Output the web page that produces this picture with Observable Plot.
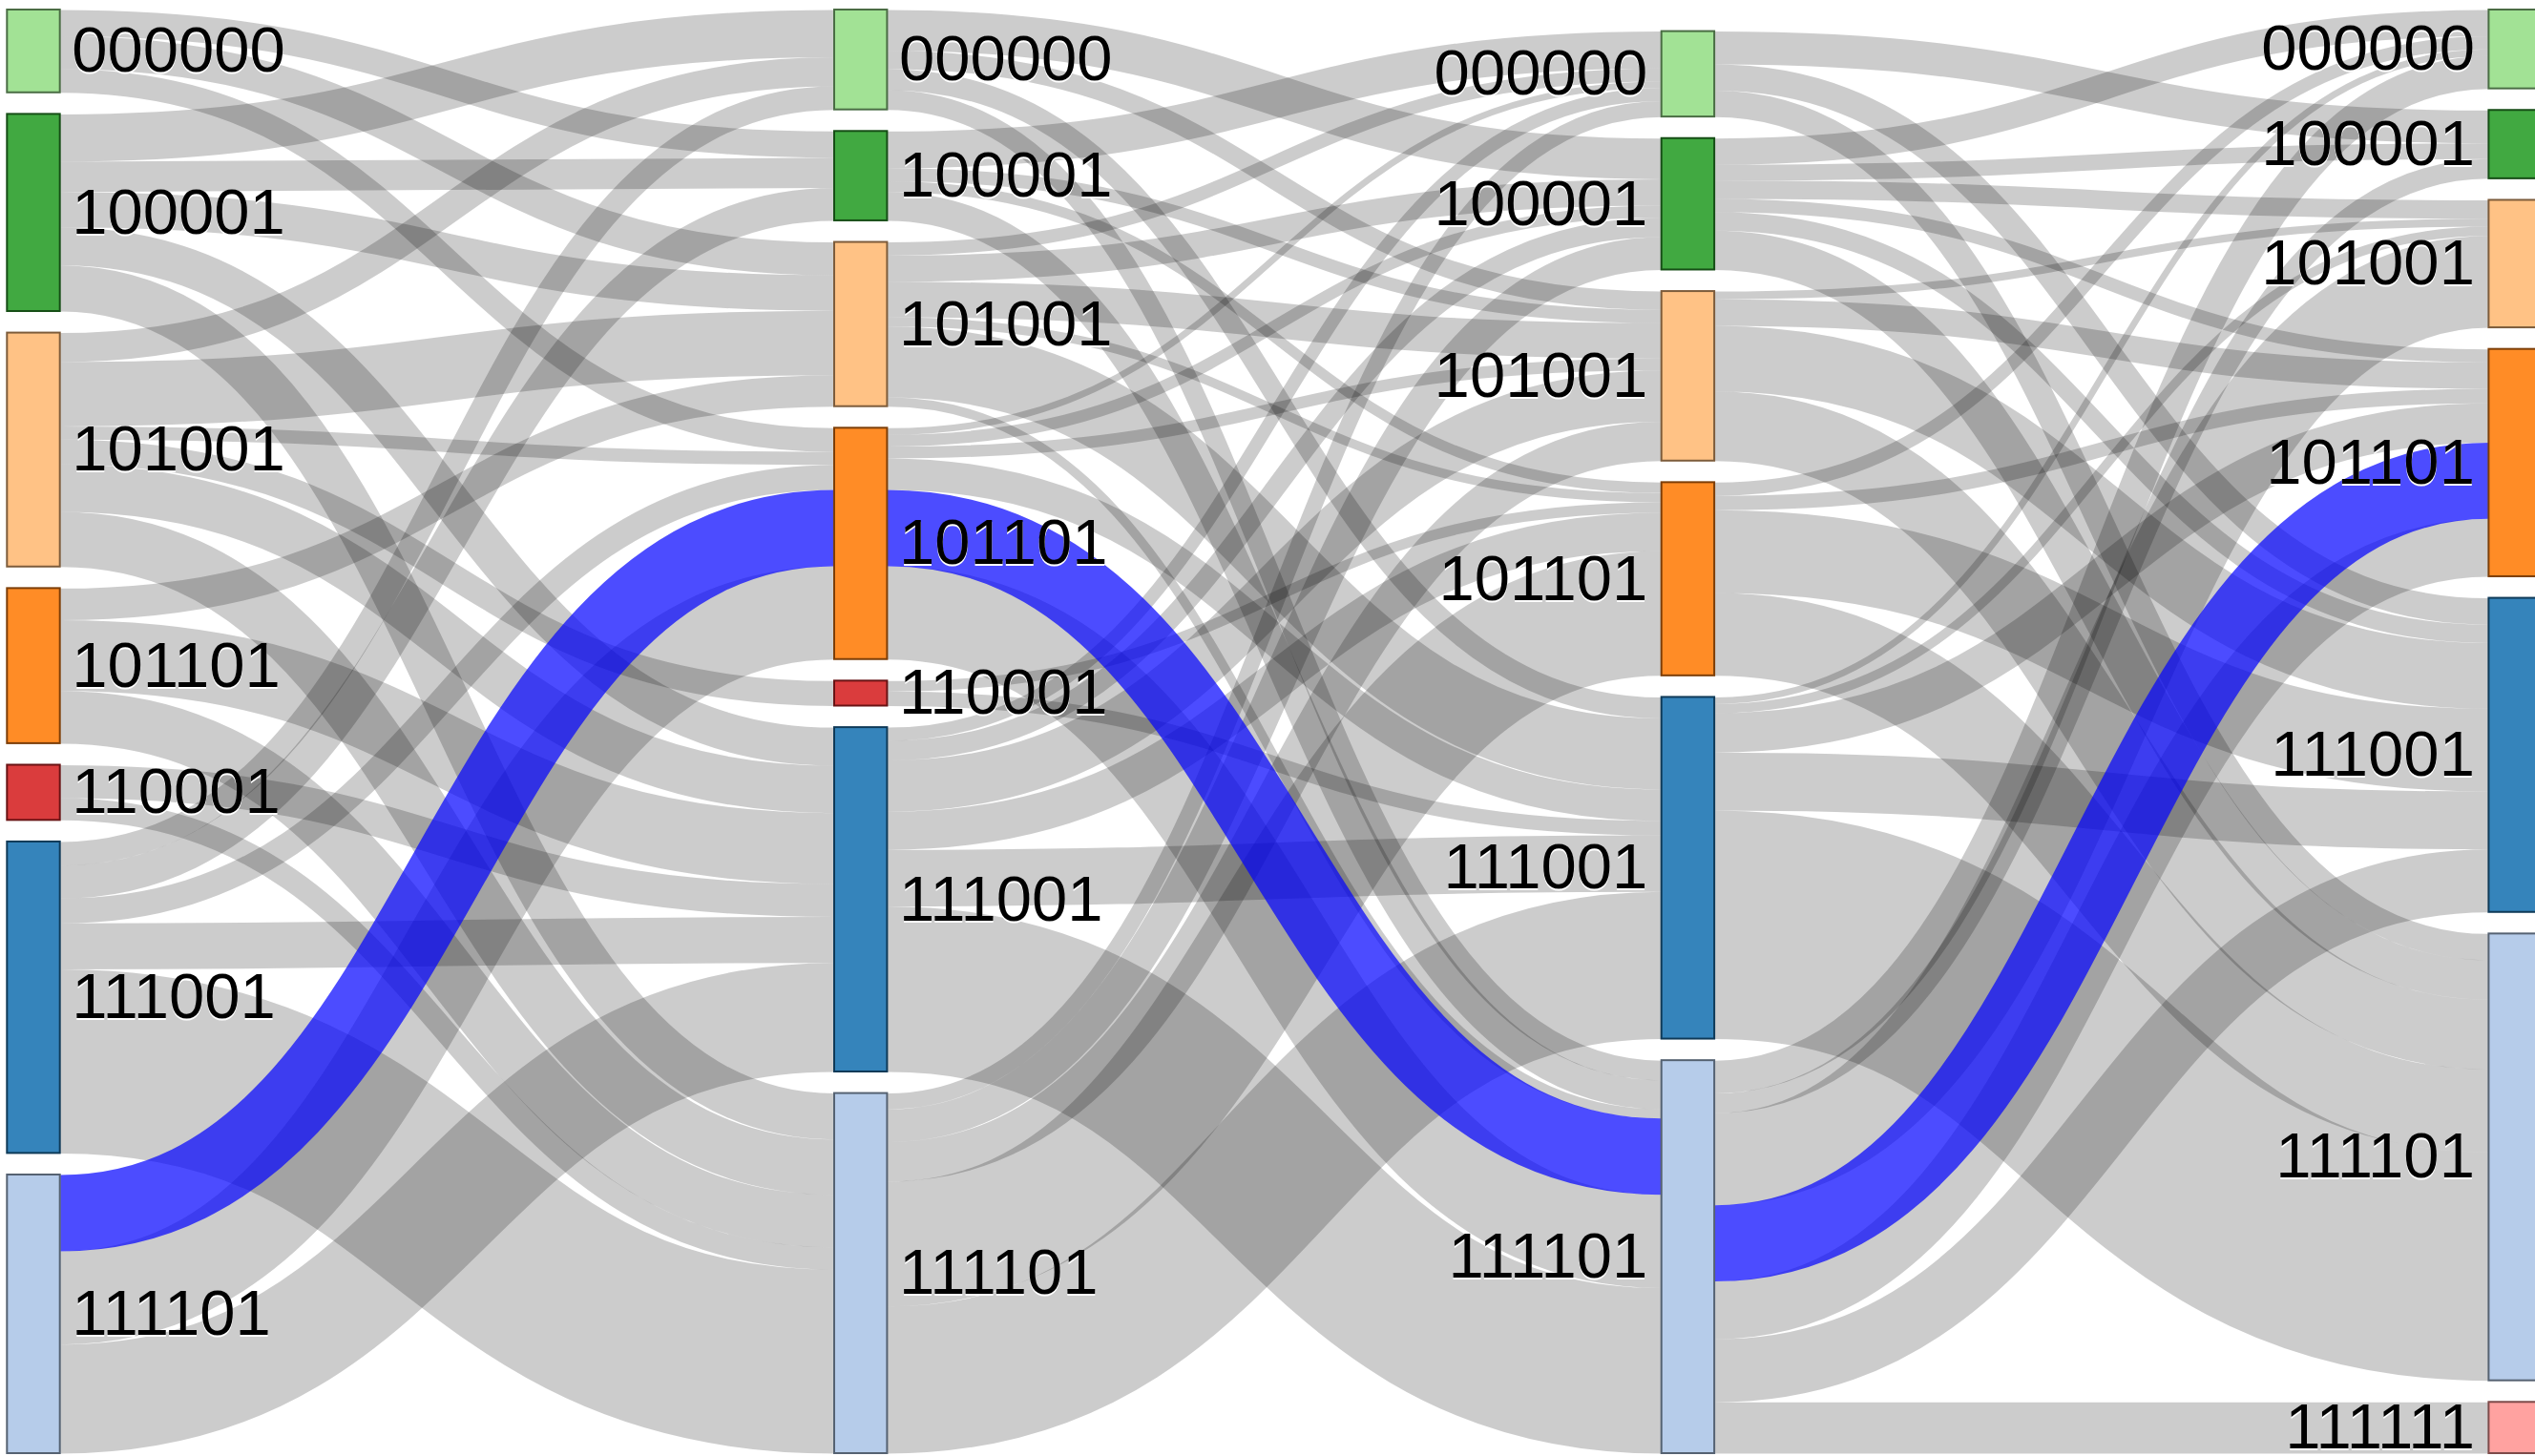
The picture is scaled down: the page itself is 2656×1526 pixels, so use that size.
<!DOCTYPE html>
<html>
<head>
<meta charset="utf-8">
<script src="https://cdn.jsdelivr.net/npm/d3@7"></script>
<script src="https://cdn.jsdelivr.net/npm/@observablehq/plot@0.6"></script>
<style>
  html, body { margin: 0; padding: 0; background: #fff; overflow: hidden; }
</style>
</head>
<body>
<div id="chart"></div>
<script>
// ---------------- data ----------------
const states = ["000000", "100001", "101001", "101101", "110001", "111001", "111101", "111111"];
const stateColors = ["#98df8a", "#2ca02c", "#ffbb78", "#ff7f0e", "#d62728", "#1f77b4", "#aec7e8", "#ff9896"];

const step1 = ["000000", "100001", "101001", "101101", "110001", "111001", "111101"];
const step2 = ["000000", "100001", "101001", "101101", "110001", "111001", "111101"];
const step3 = ["000000", "100001", "101001", "101101", "111001", "111101"];
const step4 = ["000000", "100001", "101001", "101101", "111001", "111101", "111111"];

// flows [from, to, value]
const flows12 = [
  ["000000", "100001", 2.0], ["000000", "101001", 2.5], ["000000", "101101", 1.8],
  ["100001", "000000", 3.6], ["100001", "100001", 2.3], ["100001", "101001", 2.7], ["100001", "111001", 2.9], ["100001", "111101", 3.5],
  ["101001", "000000", 2.2], ["101001", "101001", 4.9], ["101001", "101101", 1.0], ["101001", "110001", 1.9], ["101001", "111001", 3.6], ["101001", "111101", 4.2],
  ["101101", "101001", 2.4], ["101101", "111001", 5.4], ["101101", "111101", 4.0],
  ["110001", "111001", 2.5], ["110001", "111101", 1.7],
  ["111001", "000000", 1.8], ["111001", "100001", 2.5], ["111001", "101101", 1.9], ["111001", "111001", 3.5], ["111001", "111101", 14.0],
  ["111101", "101101", 7.1], ["111101", "111001", 8.3]
];
const flows23 = [
  ["000000", "100001", 3.1], ["000000", "101001", 1.4], ["000000", "111001", 1.6], ["000000", "111101", 1.5],
  ["100001", "000000", 2.8], ["100001", "101001", 1.0], ["100001", "101101", 0.8], ["100001", "111101", 2.2],
  ["101001", "000000", 1.0], ["101001", "100001", 2.0], ["101001", "101001", 2.7], ["101001", "101101", 0.7], ["101001", "111001", 5.4], ["101001", "111101", 0.7],
  ["101101", "000000", 0.5], ["101101", "100001", 0.9], ["101101", "101001", 0.9], ["101101", "111001", 2.4], ["101101", "111101", 7.1],
  ["110001", "101101", 0.8], ["110001", "111001", 1.1],
  ["111001", "000000", 1.0], ["111001", "100001", 1.5], ["111001", "101001", 3.9], ["111001", "101101", 2.9], ["111001", "111001", 4.3], ["111001", "111101", 12.6],
  ["111101", "000000", 1.2], ["111101", "100001", 2.5], ["111101", "101001", 3.0], ["111101", "101101", 9.5], ["111101", "111001", 11.2]
];
const flows34 = [
  ["000000", "100001", 2.5], ["000000", "111001", 2.0], ["000000", "111101", 2.0],
  ["100001", "000000", 2.0], ["100001", "100001", 1.2], ["100001", "101001", 1.4], ["100001", "101101", 1.0], ["100001", "111001", 1.4], ["100001", "111101", 3.0],
  ["101001", "101001", 0.6], ["101001", "101101", 2.0], ["101001", "111001", 5.0], ["101001", "111101", 5.3],
  ["101101", "000000", 1.0], ["101101", "101101", 1.1], ["101101", "111001", 6.3], ["101101", "111101", 6.3],
  ["111001", "000000", 0.5], ["111001", "101001", 0.7], ["111001", "101101", 3.0], ["111001", "111001", 4.4], ["111001", "111101", 17.4],
  ["111101", "000000", 2.5], ["111101", "100001", 1.5], ["111101", "101001", 7.0], ["111101", "101101", 4.4], ["111101", "111001", 4.8], ["111101", "111111", 3.9]
];

// highlighted trajectory and its size
const highlightPath = ["111101", "101101", "111101", "101101"];
const highlightValue = 5.8;

// ---------------- layout ----------------
const W = 2656, H = 1526;
const yTop = 10, yBottom = 1523;
const xLeft = 7.3, xRight = 2662.8;
const nodePx = 55.4, padPx = 22.6;

const steps = [step1, step2, step3, step4];
const gaps = [flows12, flows23, flows34].map((flows, c) =>
  flows.map(([s, t, v]) => ({col: c, source: s, target: t, value: v, hi: false}))
    .concat([{col: c, source: highlightPath[c], target: highlightPath[c + 1], value: highlightValue, hi: true}])
);
const colorOf = name => stateColors[states.indexOf(name)];

const nodes = [];
steps.forEach((names, c) => names.forEach((name, i) => {
  const inV = c > 0 ? d3.sum(gaps[c - 1].filter(f => f.target === name), f => f.value) : 0;
  const outV = c < gaps.length ? d3.sum(gaps[c].filter(f => f.source === name), f => f.value) : 0;
  nodes.push({col: c, index: i, name, value: Math.max(inV, outV)});
}));
const colTotal = steps.map((s, c) => d3.sum(nodes.filter(n => n.col === c), n => n.value));
const ky = d3.min(steps, (s, c) => (yBottom - yTop - (s.length - 1) * padPx) / colTotal[c]);
const pad = padPx / ky;
const extent = d3.max(steps, (s, c) => colTotal[c] + (s.length - 1) * pad);
steps.forEach((s, c) => {
  let y = extent - (colTotal[c] + (s.length - 1) * pad);
  nodes.filter(n => n.col === c).forEach(n => { n.y0 = y; n.y1 = y + n.value; y = n.y1 + pad; });
});
const nodeAt = (c, name) => nodes.find(n => n.col === c && n.name === name);

const colStep = (xRight - xLeft - nodePx) / (steps.length - 1);
const nw = nodePx / colStep;

const links = [];
gaps.forEach((ls, c) => {
  ls.forEach(l => { l.sn = nodeAt(c, l.source); l.tn = nodeAt(c + 1, l.target); });
  // stack outgoing links by target position, incoming links by source position (highlight first on ties)
  for (const n of nodes.filter(n => n.col === c)) {
    let off = 0;
    ls.filter(l => l.sn === n)
      .sort((a, b) => (a.tn.index - b.tn.index) || (b.hi - a.hi))
      .forEach(l => { l.ys = n.y0 + off + l.value / 2; off += l.value; });
  }
  for (const n of nodes.filter(n => n.col === c + 1)) {
    let off = 0;
    ls.filter(l => l.tn === n)
      .sort((a, b) => (a.sn.index - b.sn.index) || (b.hi - a.hi))
      .forEach(l => { l.yt = n.y0 + off + l.value / 2; off += l.value; });
  }
  links.push(...ls);
});

// ---------------- chart ----------------
const font = "'Liberation Sans', Arial, Helvetica, sans-serif";
const linkOpts = {
  x1: d => d.col + nw, x2: d => d.col + 1,
  y1: "ys", y2: "yt",
  curve: "bump-x",
  strokeWidth: d => d.value * ky
};
const leftLabels = nodes.filter(n => n.col < 2);
const rightLabels = nodes.filter(n => n.col >= 2);
const labelOpts = (dx, anchor, fill, dy) => ({
  x: d => anchor === "start" ? d.col + nw : d.col,
  y: d => (d.y0 + d.y1) / 2,
  text: "name", textAnchor: anchor, dx, dy,
  fontSize: 67, fontFamily: font, fill
});

const chart = Plot.plot({
  width: W, height: H,
  marginTop: 0, marginRight: 0, marginBottom: 0, marginLeft: 0,
  style: {background: "#fff", fontFamily: font},
  x: {domain: [0, steps.length - 1 + nw], range: [xLeft, xRight], axis: null},
  y: {domain: [0, extent], range: [yTop, yBottom], axis: null},
  color: {type: "identity"},
  marks: [
    Plot.link(links.filter(d => !d.hi), {...linkOpts, stroke: "#000", strokeOpacity: 0.2}),
    Plot.link(links.filter(d => d.hi), {...linkOpts, stroke: "#0000ff", strokeOpacity: 0.7}),
    Plot.rect(nodes, {
      x1: "col", x2: d => d.col + nw, y1: "y0", y2: "y1",
      fill: d => colorOf(d.name), fillOpacity: 0.9,
      stroke: d => d3.rgb(colorOf(d.name)).darker(2).formatHex(), strokeWidth: 2
    }),
    Plot.text(leftLabels, labelOpts(12, "start", "#fff", 2)),
    Plot.text(rightLabels, labelOpts(-15, "end", "#fff", 2)),
    Plot.text(leftLabels, labelOpts(12, "start", "#000", 0)),
    Plot.text(rightLabels, labelOpts(-15, "end", "#000", 0))
  ]
});
document.getElementById("chart").appendChild(chart);
</script>
</body>
</html>
